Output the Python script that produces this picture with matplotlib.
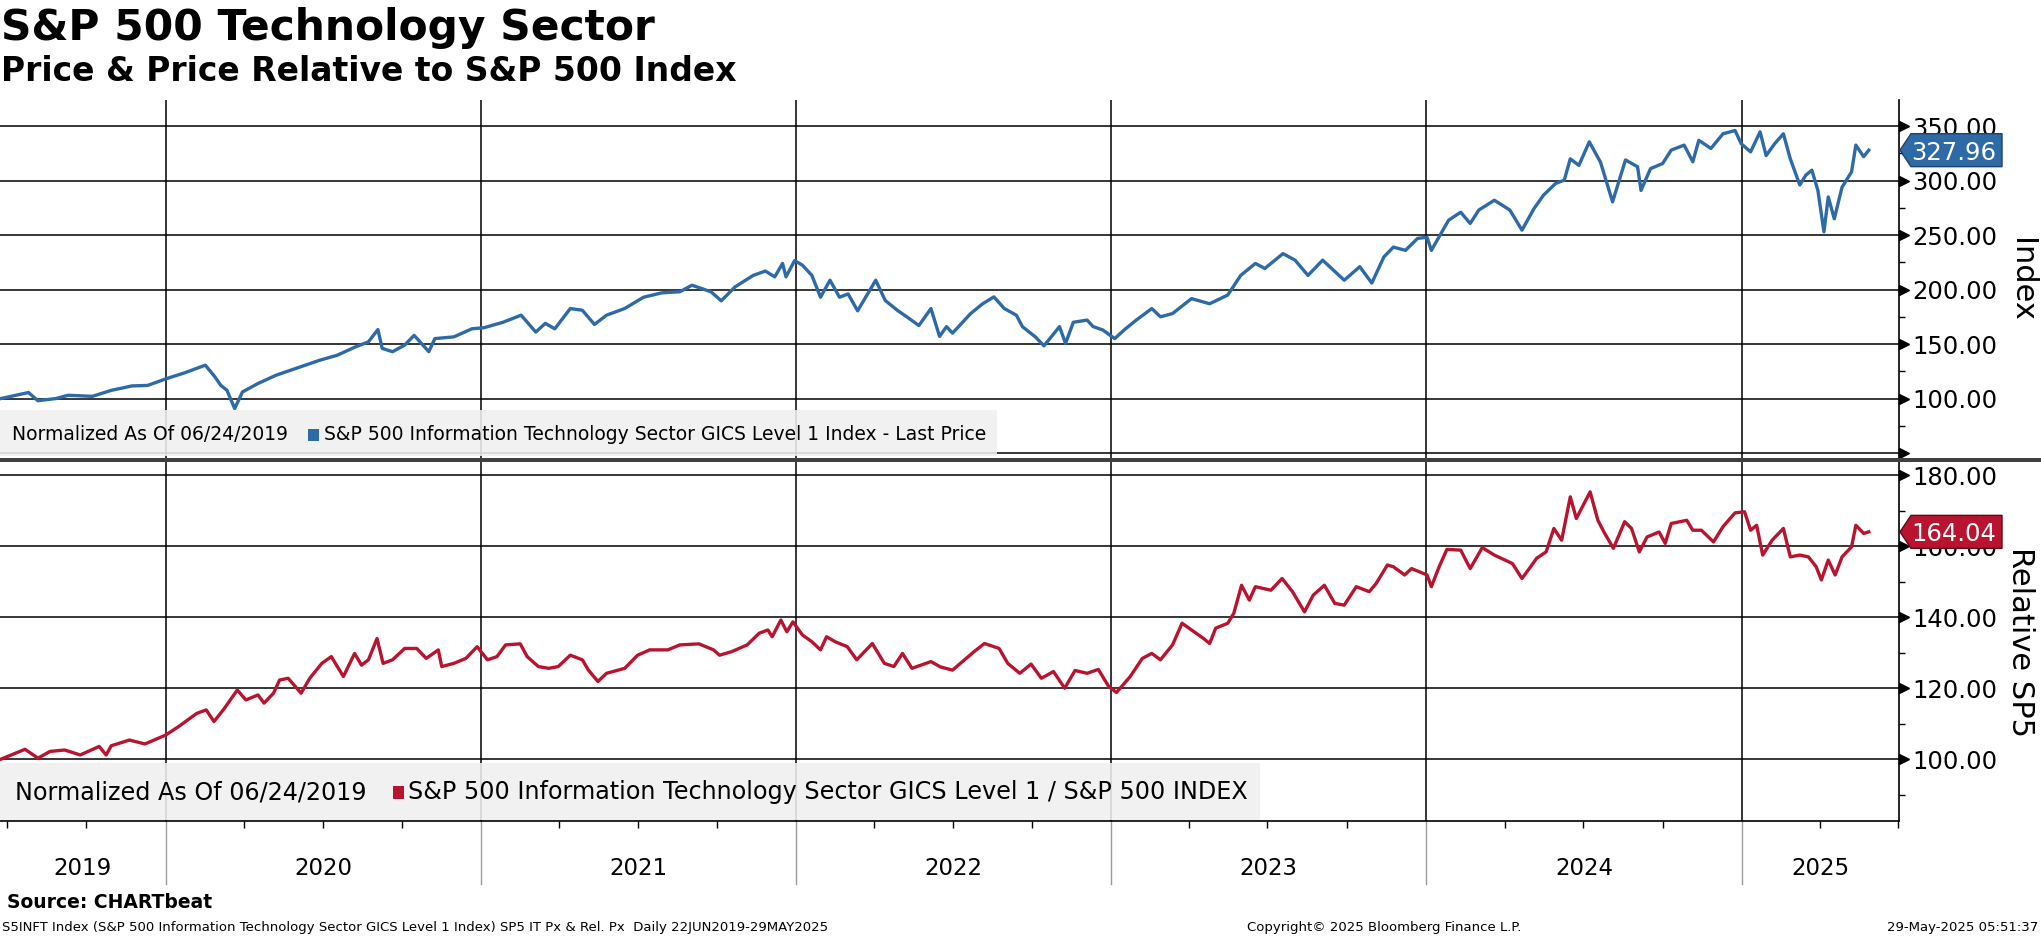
import matplotlib
matplotlib.use("Agg")
import matplotlib.pyplot as plt
import matplotlib.dates as mdates
from matplotlib.patches import Rectangle, Polygon
from matplotlib.transforms import ScaledTranslation, IdentityTransform
import datetime as dt
import numpy as np

# ---------------- data ----------------
price_dates = [
    "2019-06-24", "2019-07-26", "2019-08-06", "2019-08-27", "2019-09-10", "2019-10-08", "2019-10-30",
    "2019-11-23", "2019-12-11", "2020-01-01", "2020-01-23", "2020-02-16", "2020-02-27", "2020-03-05",
    "2020-03-12", "2020-03-21", "2020-03-30", "2020-04-17", "2020-05-08", "2020-06-05", "2020-06-27",
    "2020-07-18", "2020-08-08", "2020-08-23", "2020-09-03", "2020-09-08", "2020-09-20", "2020-10-04",
    "2020-10-15", "2020-11-01", "2020-11-08", "2020-11-30", "2020-12-21", "2021-01-04", "2021-01-26",
    "2021-02-16", "2021-03-05", "2021-03-16", "2021-03-27", "2021-04-14", "2021-04-28", "2021-05-12",
    "2021-05-26", "2021-06-16", "2021-07-08", "2021-07-29", "2021-08-19", "2021-09-02", "2021-09-24",
    "2021-10-06", "2021-10-22", "2021-11-12", "2021-11-26", "2021-12-07", "2021-12-16", "2021-12-20",
    "2021-12-30", "2022-01-08", "2022-01-19", "2022-01-29", "2022-02-09", "2022-02-20", "2022-03-02",
    "2022-03-13", "2022-04-03", "2022-04-14", "2022-04-28", "2022-05-09", "2022-05-23", "2022-06-06",
    "2022-06-16", "2022-06-24", "2022-07-01", "2022-07-22", "2022-08-05", "2022-08-18", "2022-08-30",
    "2022-09-13", "2022-09-20", "2022-10-05", "2022-10-15", "2022-11-02", "2022-11-09", "2022-11-18",
    "2022-12-04", "2022-12-11", "2022-12-22", "2023-01-05", "2023-01-16", "2023-01-30", "2023-02-17",
    "2023-02-27", "2023-03-13", "2023-04-04", "2023-04-25", "2023-05-16", "2023-05-31", "2023-06-17",
    "2023-06-28", "2023-07-19", "2023-08-02", "2023-08-17", "2023-09-03", "2023-09-28", "2023-10-16",
    "2023-10-30", "2023-11-13", "2023-11-24", "2023-12-08", "2023-12-22", "2024-01-02", "2024-01-07",
    "2024-01-16", "2024-01-27", "2024-02-10", "2024-02-21", "2024-03-02", "2024-03-20", "2024-04-07",
    "2024-04-21", "2024-05-05", "2024-05-16", "2024-05-30", "2024-06-09", "2024-06-16", "2024-06-26",
    "2024-07-08", "2024-07-21", "2024-08-04", "2024-08-19", "2024-09-02", "2024-09-06", "2024-09-17",
    "2024-10-01", "2024-10-11", "2024-10-26", "2024-11-05", "2024-11-12", "2024-11-26", "2024-12-10",
    "2024-12-24", "2024-12-31", "2025-01-11", "2025-01-22", "2025-01-29", "2025-02-08", "2025-02-18",
    "2025-02-26", "2025-03-09", "2025-03-16", "2025-03-23", "2025-03-30", "2025-04-06", "2025-04-11",
    "2025-04-18", "2025-04-27", "2025-05-08", "2025-05-13", "2025-05-22", "2025-05-28",
]
price_vals = [
    100.0, 105.5, 98.0, 100.0, 103.0, 102.0, 107.5,
    111.6, 112.0, 118.0, 123.6, 130.6, 120.0, 112.0,
    107.6, 90.8, 106.0, 113.8, 121.4, 129.0, 135.0,
    139.8, 147.4, 152.0, 163.3, 146.0, 143.0, 149.0,
    158.0, 143.0, 155.0, 156.6, 164.0, 165.0, 170.0,
    176.5, 161.0, 169.0, 164.0, 182.6, 181.0, 168.0,
    176.5, 182.6, 193.0, 197.0, 198.0, 204.0, 198.0,
    189.7, 202.5, 213.0, 217.0, 211.7, 224.0, 211.7,
    226.6, 222.4, 213.0, 193.0, 208.6, 193.0, 196.0,
    180.5, 208.6, 190.0, 181.0, 175.0, 167.0, 182.6,
    157.0, 166.0, 160.0, 178.0, 187.0, 193.3, 182.6,
    176.5, 166.0, 156.6, 148.4, 166.0, 150.5, 170.0,
    172.0, 166.0, 163.0, 155.0, 163.0, 172.0, 182.6,
    175.0, 178.0, 191.7, 187.0, 195.0, 213.0, 224.0,
    219.4, 233.0, 227.0, 213.0, 227.0, 208.6, 221.0,
    206.0, 230.0, 239.0, 236.0, 247.0, 248.0, 236.0,
    248.4, 263.7, 271.0, 260.7, 273.0, 282.0, 273.0,
    254.5, 274.4, 286.7, 297.4, 300.4, 320.0, 314.0,
    335.6, 317.0, 280.5, 319.0, 312.7, 291.0, 311.0,
    315.7, 328.0, 332.6, 317.3, 337.0, 329.5, 343.0,
    346.0, 334.0, 326.4, 344.8, 323.0, 334.0, 343.0,
    320.0, 296.0, 305.0, 309.6, 291.0, 253.0, 285.0,
    265.0, 294.0, 308.0, 332.6, 322.0, 327.96,
]

rel_dates = [
    "2019-06-24", "2019-07-22", "2019-08-06", "2019-08-20", "2019-09-06", "2019-09-24", "2019-10-16",
    "2019-10-24", "2019-10-30", "2019-11-20", "2019-12-08", "2020-01-01", "2020-01-16", "2020-02-06",
    "2020-02-17", "2020-02-26", "2020-03-09", "2020-03-24", "2020-04-03", "2020-04-17", "2020-04-24",
    "2020-05-05", "2020-05-12", "2020-05-22", "2020-06-06", "2020-06-16", "2020-06-30", "2020-07-11",
    "2020-07-25", "2020-08-07", "2020-08-15", "2020-08-23", "2020-09-02", "2020-09-09", "2020-09-20",
    "2020-10-04", "2020-10-18", "2020-10-29", "2020-11-12", "2020-11-16", "2020-11-30", "2020-12-14",
    "2020-12-27", "2021-01-08", "2021-01-19", "2021-01-29", "2021-02-15", "2021-02-23", "2021-03-08",
    "2021-03-20", "2021-03-31", "2021-04-14", "2021-04-28", "2021-05-05", "2021-05-16", "2021-05-26",
    "2021-06-16", "2021-07-01", "2021-07-15", "2021-08-05", "2021-08-19", "2021-09-10", "2021-09-27",
    "2021-10-04", "2021-10-18", "2021-11-05", "2021-11-19", "2021-11-29", "2021-12-04", "2021-12-14",
    "2021-12-21", "2021-12-28", "2022-01-08", "2022-01-19", "2022-01-29", "2022-02-05", "2022-02-15",
    "2022-03-01", "2022-03-12", "2022-03-30", "2022-04-13", "2022-04-24", "2022-05-04", "2022-05-15",
    "2022-06-06", "2022-06-17", "2022-07-01", "2022-07-15", "2022-07-26", "2022-08-07", "2022-08-24",
    "2022-09-03", "2022-09-17", "2022-09-30", "2022-10-12", "2022-10-26", "2022-11-08", "2022-11-20",
    "2022-12-04", "2022-12-17", "2022-12-29", "2023-01-07", "2023-01-23", "2023-02-06", "2023-02-17",
    "2023-02-27", "2023-03-13", "2023-03-24", "2023-04-04", "2023-04-18", "2023-04-25", "2023-05-02",
    "2023-05-16", "2023-05-23", "2023-06-01", "2023-06-10", "2023-06-17", "2023-07-05", "2023-07-18",
    "2023-07-30", "2023-08-13", "2023-08-23", "2023-09-05", "2023-09-17", "2023-09-28", "2023-10-12",
    "2023-10-27", "2023-11-04", "2023-11-17", "2023-11-24", "2023-12-07", "2023-12-15", "2024-01-02",
    "2024-01-07", "2024-01-16", "2024-01-25", "2024-02-10", "2024-02-21", "2024-03-06", "2024-03-20",
    "2024-04-10", "2024-04-21", "2024-05-01", "2024-05-08", "2024-05-19", "2024-05-28", "2024-06-06",
    "2024-06-16", "2024-06-23", "2024-07-09", "2024-07-18", "2024-07-25", "2024-08-05", "2024-08-18",
    "2024-08-26", "2024-09-04", "2024-09-13", "2024-09-27", "2024-10-04", "2024-10-11", "2024-10-29",
    "2024-11-05", "2024-11-15", "2024-11-29", "2024-12-10", "2024-12-24", "2025-01-04", "2025-01-11",
    "2025-01-18", "2025-01-25", "2025-02-05", "2025-02-18", "2025-02-26", "2025-03-09", "2025-03-19",
    "2025-03-28", "2025-04-03", "2025-04-11", "2025-04-19", "2025-04-27", "2025-05-08", "2025-05-13",
    "2025-05-22", "2025-05-28",
]
rel_vals = [
    100.0, 102.8, 100.3, 102.2, 102.6, 101.2, 103.6,
    101.2, 103.8, 105.4, 104.3, 106.8, 109.2, 112.9,
    113.9, 110.6, 114.3, 119.5, 116.7, 118.1, 115.8,
    118.6, 122.3, 122.8, 118.6, 122.8, 127.0, 128.9,
    123.3, 129.8, 126.5, 128.0, 134.0, 127.0, 128.0,
    131.2, 131.2, 128.4, 130.8, 126.1, 127.0, 128.4,
    131.7, 128.0, 128.9, 132.2, 132.5, 128.9, 126.1,
    125.6, 126.1, 129.3, 128.0, 125.1, 121.9, 124.2,
    125.6, 129.3, 130.8, 130.8, 132.2, 132.5, 130.8,
    129.3, 130.3, 132.2, 135.5, 136.4, 134.5, 139.2,
    135.9, 138.7, 135.0, 133.1, 130.8, 134.5, 133.1,
    131.7, 128.0, 132.6, 127.0, 126.1, 129.8, 125.6,
    127.5, 126.0, 125.1, 128.0, 130.3, 132.6, 131.2,
    127.0, 124.2, 126.8, 122.8, 124.7, 120.0, 125.0,
    124.2, 125.3, 120.5, 118.8, 123.3, 128.4, 129.8,
    128.0, 132.2, 138.3, 136.4, 134.0, 132.6, 136.9,
    138.3, 141.1, 149.0, 144.8, 148.6, 147.6, 150.9,
    147.2, 141.5, 146.2, 149.0, 143.9, 143.4, 148.6,
    147.2, 149.5, 154.7, 154.2, 151.9, 153.7, 151.9,
    148.6, 154.2, 159.1, 158.9, 153.7, 159.6, 157.5,
    155.1, 150.9, 154.2, 156.6, 158.4, 165.0, 161.7,
    173.9, 167.8, 175.3, 167.3, 164.0, 159.4, 166.9,
    165.0, 158.4, 162.6, 164.0, 160.8, 166.4, 167.3,
    164.5, 164.5, 161.2, 165.5, 169.4, 169.7, 164.5,
    165.9, 157.5, 161.7, 165.0, 157.0, 157.5, 157.0,
    154.2, 150.5, 156.1, 151.9, 157.0, 159.8, 165.9,
    163.6, 164.04,
]

price_ticks = [50, 100, 150, 200, 250, 300, 350]
price_minor = [75, 125, 175, 225, 275, 325]
rel_ticks = [100, 120, 140, 160, 180]
rel_minor = [90, 110, 130, 150, 170]
years = [2019, 2020, 2021, 2022, 2023, 2024, 2025]

title = "S&P 500 Technology Sector"
subtitle = "Price & Price Relative to S&P 500 Index"
legend_norm = "Normalized As Of 06/24/2019"
legend_top = "S&P 500 Information Technology Sector GICS Level 1 Index - Last Price"
legend_bot = "S&P 500 Information Technology Sector GICS Level 1 / S&P 500 INDEX"
source = "Source: CHARTbeat"
footer_left = "S5INFT Index (S&P 500 Information Technology Sector GICS Level 1 Index) SP5 IT Px & Rel. Px  Daily 22JUN2019-29MAY2025"
footer_mid = "Copyright\u00a9 2025 Bloomberg Finance L.P."
footer_right = "29-May-2025 05:51:37"

BLUE = "#2d6aa6"
RED = "#b8142f"

# ---------------- figure ----------------
W, H = 2041, 936
fig = plt.figure(figsize=(W / 100, H / 100), dpi=100)
plt.rcParams['font.family'] = ['DejaVu Sans']


def fbox(x0, y0, x1, y1):
    return [x0 / W, 1 - y1 / H, (x1 - x0) / W, (y1 - y0) / H]


def fx(x):
    return x / W


def fy(y):
    return 1 - y / H


ax1 = fig.add_axes(fbox(0, 100, 1899, 459))
ax2 = fig.add_axes(fbox(0, 461, 1899, 821))

pd_dates = [dt.datetime.strptime(d, "%Y-%m-%d") for d in price_dates]
rd_dates = [dt.datetime.strptime(d, "%Y-%m-%d") for d in rel_dates]

ax1.plot(pd_dates, price_vals, color=BLUE, lw=2.4, zorder=3, solid_joinstyle='round')
ax2.plot(rd_dates, rel_vals, color=RED, lw=2.4, zorder=3, solid_joinstyle='round')

xlim = (dt.datetime(2019, 6, 23), dt.datetime(2025, 7, 2))
for ax in (ax1, ax2):
    ax.set_xlim(*xlim)
    ax.xaxis.set_major_locator(mdates.YearLocator())
    ax.xaxis.set_minor_locator(mdates.MonthLocator(bymonth=[4, 7, 10]))
    ax.grid(True, which='major', axis='both', color='black', lw=1.1, zorder=1)
    ax.set_axisbelow(True)
    ax.yaxis.tick_right()
    ax.tick_params(axis='y', which='major', length=0, pad=9.5, labelsize=17.5)
    ax.tick_params(axis='y', which='minor', length=4, width=1.0, direction='out', color='black')
    ax.tick_params(axis='x', which='both', labelbottom=False)
    for s in ('top', 'left'):
        ax.spines[s].set_visible(False)
    ax.spines['right'].set_color('black')
    ax.spines['right'].set_linewidth(1.2)

ax1.set_ylim(44.5, 374)
ax1.set_yticks(price_ticks)
ax1.set_yticks(price_minor, minor=True)
ax1.set_yticklabels([f"{v:.2f}" if v >= 100 else "" for v in price_ticks])
ax1.spines['bottom'].set_visible(False)
ax1.tick_params(axis='x', which='both', length=0)

ax2.set_ylim(82.6, 184)
ax2.set_yticks(rel_ticks)
ax2.set_yticks(rel_minor, minor=True)
ax2.set_yticklabels([f"{v:.2f}" for v in rel_ticks])
ax2.spines['bottom'].set_color('black')
ax2.spines['bottom'].set_linewidth(1.2)
ax2.tick_params(axis='x', which='major', length=0)
ax2.tick_params(axis='x', which='minor', length=5, width=1.0, direction='out', color='black')

# arrow markers at major ticks
off = ScaledTranslation(4.5 / 100, 0, fig.dpi_scale_trans)
for ax, ticks in ((ax1, price_ticks), (ax2, rel_ticks)):
    ax.plot([1.0] * len(ticks), ticks, ls='none', marker='>', ms=6.5, color='black',
            transform=ax.get_yaxis_transform() + off, clip_on=False, zorder=5)

# year lines below the axis and year labels
year_starts = [dt.datetime(y, 1, 1) for y in years if dt.datetime(y, 1, 1) > xlim[0]]
for d in year_starts:
    ax2.plot([d, d], [-0.175, 0], color='#9a9a9a', lw=1.0,
             transform=ax2.get_xaxis_transform(), clip_on=False)
for y in years:
    s = max(dt.datetime(y, 1, 1), xlim[0])
    e = min(dt.datetime(y + 1, 1, 1), xlim[1])
    mid = s + (e - s) / 2
    ax2.text(mid, -0.133, str(y), transform=ax2.get_xaxis_transform(), ha='center', va='center',
             fontsize=16.5, color='black')

# separator between panels
fig.add_artist(Rectangle((0, fy(462)), 1, 4.5 / H, transform=fig.transFigure,
                         facecolor='#404040', edgecolor='none', zorder=6))

# axis titles
fig.text(fx(2021), fy(280), "Index", rotation=270, ha='center', va='center', fontsize=22)
fig.text(fx(2021), fy(642), "Relative SP5", rotation=270, ha='center', va='center', fontsize=22)

# titles
fig.text(fx(1), fy(40), title, fontsize=30.5, fontweight='bold', va='baseline', ha='left')
fig.text(fx(1), fy(81), subtitle, fontsize=23.8, fontweight='bold', va='baseline', ha='left')

# legends
fig.canvas.draw()
renderer = fig.canvas.get_renderer()


def legend(y0, y1, x1, ycen, size, color, label, sq_gap, sq_w, sq_h, txt_gap):
    fig.add_artist(Rectangle((0, fy(y1)), x1 / W, (y1 - y0) / H, transform=fig.transFigure,
                             facecolor='#f0f0f0', edgecolor='none', alpha=0.88, zorder=4))
    t = fig.text(fx(12 if size < 15 else 15), fy(ycen), legend_norm, fontsize=size, va='center',
                 ha='left', zorder=7)
    bb = t.get_window_extent(renderer)
    xs = bb.x1 + sq_gap
    fig.add_artist(Rectangle((xs / W, fy(ycen) - sq_h / 2 / H), sq_w / W, sq_h / H,
                             transform=fig.transFigure, facecolor=color, edgecolor='none', zorder=7))
    fig.text((xs + sq_w + txt_gap) / W, fy(ycen), label, fontsize=size, va='center', ha='left',
             zorder=7)


legend(410, 456, 997, 435, 13.5, BLUE, legend_top, 20, 11, 12, 5)
legend(763, 820, 1260, 792, 17.2, RED, legend_bot, 26, 11, 13, 5)

# value tags


def tag(ax, val, color, edge):
    x_disp, y_disp = ax.get_yaxis_transform().transform((1.0, val))
    tip = 1900
    verts = [(tip, y_disp), (tip + 11, y_disp + 16.5), (2002, y_disp + 16.5),
             (2002, y_disp - 16.5), (tip + 11, y_disp - 16.5)]
    fig.add_artist(Polygon(verts, closed=True, transform=IdentityTransform(), facecolor=color,
                           edgecolor=edge, lw=1.0, zorder=8))
    fig.text(1954 / W, y_disp / H, f"{val:.2f}", color='white', fontsize=17.5, ha='center',
             va='center_baseline', zorder=9)


tag(ax1, price_vals[-1], BLUE, '#1b4270')
tag(ax2, rel_vals[-1], RED, '#5e0a18')

# footer
fig.text(fx(7), fy(902), source, fontsize=13.5, fontweight='bold', va='center', ha='left')
fig.text(fx(2), fy(927), footer_left, fontsize=9.5, va='center', ha='left')
fig.text(fx(1247), fy(927), footer_mid, fontsize=9.5, va='center', ha='left')
fig.text(fx(2038), fy(927), footer_right, fontsize=9.5, va='center', ha='right')

fig.savefig("out.png", dpi=100, facecolor='white')
